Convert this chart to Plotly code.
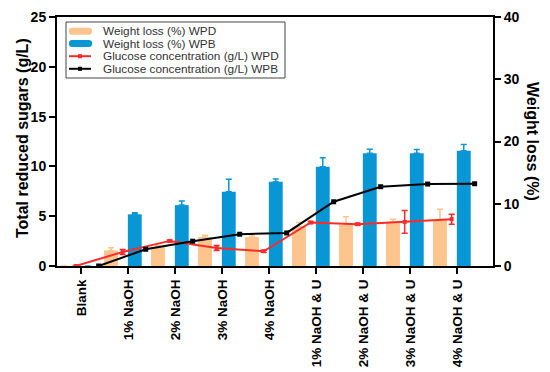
import plotly.graph_objects as go

categories = ["Blank", "1% NaOH", "2% NaOH", "3% NaOH", "4% NaOH",
              "1% NaOH & U", "2% NaOH & U", "3% NaOH & U", "4% NaOH & U"]

# Weight loss (%) - right axis
wl_wpd = [0, 2.5, 3.05, 4.65, 4.65, 6.3, 6.6, 7.1, 7.4]
wl_wpd_err = [0, 0.45, 0.2, 0.3, 0.35, 0.7, 1.3, 0.4, 1.7]
wl_wpb = [0, 8.3, 9.78, 11.93, 13.54, 15.95, 18.1, 18.1, 18.53]
wl_wpb_err = [0, 0.25, 0.65, 2.0, 0.45, 1.45, 0.65, 0.6, 1.0]

# Glucose concentration (g/L) - left axis
glc_wpd = [0, 1.41, 2.52, 1.81, 1.48, 4.37, 4.2, 4.43, 4.7]
glc_wpd_err = [0, 0.25, 0.1, 0.25, 0.1, 0.1, 0.1, 1.15, 0.5]
glc_wpb = [0, 1.68, 2.49, 3.19, 3.32, 6.45, 7.96, 8.23, 8.26]

legend_labels = ["Weight loss (%) WPD", "Weight loss (%) WPB",
                 "Glucose concentration (g/L) WPD", "Glucose concentration (g/L) WPB"]

ORANGE = "#FEC48D"
BLUE = "#0896D4"
RED = "#FF2A2A"
BLACK = "#000000"
FONT = "Liberation Sans"

idx = list(range(len(categories)))
BAR_W = 0.295
OR_C, BL_C, RED_SH, BLK_SH = -0.366, 0.14, -0.117, 0.372

fig = go.Figure()
fig.add_trace(go.Bar(
    x=idx, y=wl_wpd, width=BAR_W, offset=OR_C - BAR_W / 2, marker=dict(color=ORANGE, line=dict(width=0)),
    error_y=dict(type="data", array=wl_wpd_err, arrayminus=[0] * len(idx), color=ORANGE, thickness=1.5, width=3),
    yaxis="y", showlegend=False))
fig.add_trace(go.Bar(
    x=idx, y=wl_wpb, width=BAR_W, offset=BL_C - BAR_W / 2, marker=dict(color=BLUE, line=dict(width=0)),
    error_y=dict(type="data", array=wl_wpb_err, arrayminus=[0] * len(idx), color=BLUE, thickness=1.5, width=3),
    yaxis="y", showlegend=False))
fig.add_trace(go.Scatter(
    x=[i + RED_SH for i in idx], y=glc_wpd, mode="lines+markers",
    line=dict(color=RED, width=2), marker=dict(symbol="square", size=4, color=RED),
    error_y=dict(type="data", array=glc_wpd_err, color=RED, thickness=1.5, width=3),
    yaxis="y2", showlegend=False))
fig.add_trace(go.Scatter(
    x=[i + BLK_SH for i in idx], y=glc_wpb, mode="lines+markers",
    line=dict(color=BLACK, width=2), marker=dict(symbol="square", size=5, color=BLACK),
    yaxis="y2", showlegend=False))

L, R, T, B = 57, 493, 17, 266
def px(p):
    return (p - L) / (R - L)
def py(p):
    return (B - p) / (B - T)

shapes = [dict(type="rect", xref="paper", yref="paper", x0=px(66), x1=px(285), y0=py(22), y1=py(78),
               line=dict(color="#444444", width=1), fillcolor="rgba(255,255,255,0)")]
rows = [31.2, 43.6, 56.2, 68.8]
annotations = []
for k, (lab, yy) in enumerate(zip(legend_labels, rows)):
    if k < 2:
        col = ORANGE if k == 0 else BLUE
        x0, x1, y0, y1, r = 69, 92, yy - 3.5, yy + 3.5, 3
        path = (f"M {px(x0 + r)} {py(y0)} L {px(x1 - r)} {py(y0)} Q {px(x1)} {py(y0)} {px(x1)} {py(y0 + r)} "
                f"L {px(x1)} {py(y1 - r)} Q {px(x1)} {py(y1)} {px(x1 - r)} {py(y1)} L {px(x0 + r)} {py(y1)} "
                f"Q {px(x0)} {py(y1)} {px(x0)} {py(y1 - r)} L {px(x0)} {py(y0 + r)} Q {px(x0)} {py(y0)} {px(x0 + r)} {py(y0)} Z")
        shapes.append(dict(type="path", xref="paper", yref="paper", path=path, fillcolor=col, line=dict(width=0)))
    else:
        col = RED if k == 2 else BLACK
        shapes.append(dict(type="line", xref="paper", yref="paper", x0=px(69), x1=px(91), y0=py(yy), y1=py(yy),
                           line=dict(color=col, width=2)))
        shapes.append(dict(type="rect", xref="paper", yref="paper", x0=px(78), x1=px(82), y0=py(yy - 2), y1=py(yy + 2),
                           fillcolor=col, line=dict(width=0)))
    annotations.append(dict(text=lab, xref="paper", yref="paper", x=px(101), y=py(yy), xanchor="left",
                            yanchor="middle", showarrow=False, font=dict(family=FONT, size=11.8, color="#333333")))

annotations.append(dict(text="Total reduced sugars (g/L)", xref="paper", yref="paper", x=px(22), y=py(138),
                        xanchor="center", yanchor="middle", textangle=-90, showarrow=False,
                        font=dict(family=FONT, size=16, color="black", weight="bold")))
annotations.append(dict(text="Weight loss (%)", xref="paper", yref="paper", x=px(533), y=py(141),
                        xanchor="center", yanchor="middle", textangle=90, showarrow=False,
                        font=dict(family=FONT, size=16, color="black", weight="bold")))

fig.update_layout(
    template="none",
    width=550, height=372,
    margin=dict(l=L, r=550 - R, t=T, b=372 - B, autoexpand=False),
    paper_bgcolor="white", plot_bgcolor="white",
    barmode="overlay",
    showlegend=False,
    font=dict(family=FONT, color="black"),
    xaxis=dict(range=[-0.515, 8.762], tickmode="array", tickvals=idx, ticktext=categories, automargin=False,
               tickangle=-90, ticks="outside", ticklen=6, tickwidth=2, tickcolor="black",
               showline=True, linewidth=2, linecolor="black", mirror=True, showgrid=False, zeroline=False,
               tickfont=dict(family=FONT, size=13.5, color="black", weight="bold")),
    yaxis=dict(side="right", range=[0, 40], dtick=10, ticks="outside", ticklen=6, tickwidth=2, tickcolor="black",
               showline=True, linewidth=2, linecolor="black", showgrid=False, zeroline=False, automargin=False,
               tickfont=dict(family=FONT, size=14, color="black", weight="bold")),
    yaxis2=dict(side="left", overlaying="y", range=[0, 25], dtick=5, ticks="outside", ticklen=6, tickwidth=2,
                tickcolor="black", showline=True, linewidth=2, linecolor="black", showgrid=False, zeroline=False,
                automargin=False, tickfont=dict(family=FONT, size=14, color="black", weight="bold")),
    shapes=shapes,
    annotations=annotations,
)

fig.write_html("out.html", config={"displayModeBar": False},
               post_script="document.body.style.margin='0';document.body.style.overflow='hidden';")
